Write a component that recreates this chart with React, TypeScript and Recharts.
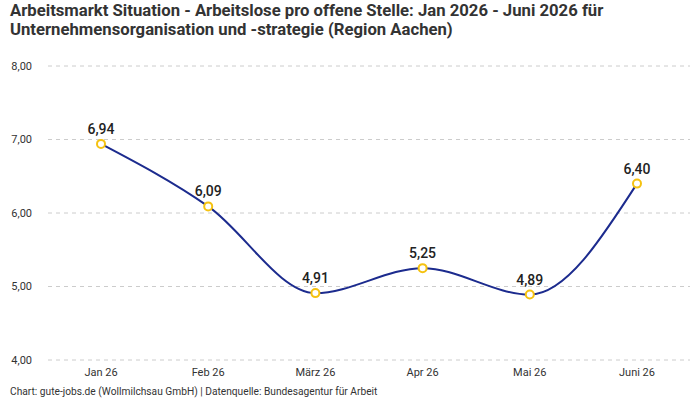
import { LineChart, Line, XAxis, YAxis, CartesianGrid, LabelList } from 'recharts';

const months = ['Jan 26', 'Feb 26', 'März 26', 'Apr 26', 'Mai 26', 'Juni 26'];
const ratio = [6.94, 6.09, 4.91, 5.25, 4.89, 6.4];
const yTicks = [4, 5, 6, 7, 8];

const data = months.map((m, i) => ({ month: m, value: ratio[i] }));

const fmt = (v: number) => v.toFixed(2).replace('.', ',');
const FONT = 'Roboto, "Noto Sans", sans-serif';

export default function App() {
  return (
    <div style={{ position: 'absolute', left: 0, top: 0, width: 700, height: 400, background: '#fff', fontFamily: FONT }}>
      <div style={{ position: 'absolute', left: 10, top: 1, fontSize: 16.7, fontWeight: 700, lineHeight: '19px', color: '#333', width: 685 }}>
        Arbeitsmarkt Situation - Arbeitslose pro offene Stelle: Jan 2026 - Juni 2026 für Unternehmensorganisation und -strategie (Region Aachen)
      </div>
      <LineChart width={700} height={400} data={data} margin={{ top: 66, right: 10, left: 0, bottom: 10 }}>
        <CartesianGrid vertical={false} stroke="#cccccc" strokeDasharray="4 4" />
        <XAxis
          dataKey="month"
          axisLine={false}
          tickLine={false}
          height={30}
          padding={{ left: 53, right: 53 }}
          tick={{ fontSize: 11, fill: '#333', fontFamily: FONT }}
        />
        <YAxis
          domain={[4, 8]}
          ticks={yTicks}
          axisLine={false}
          tickLine={false}
          width={48}
          tickMargin={10}
          tickFormatter={fmt}
          tick={{ fontSize: 11, fill: '#333', fontFamily: FONT }}
        />
        <Line
          type="monotone"
          dataKey="value"
          stroke="#1c2b8e"
          strokeWidth={2}
          dot={{ r: 4, fill: '#fff', stroke: '#f5c211', strokeWidth: 2 }}
          isAnimationActive={false}
        >
          <LabelList
            dataKey="value"
            position="top"
            offset={10}
            formatter={(v: any) => fmt(Number(v))}
            style={{ fontSize: 14, fontWeight: 500, fill: '#222', fontFamily: FONT }}
          />
        </Line>
      </LineChart>
      <div style={{ position: 'absolute', left: 10, top: 386, fontSize: 10.2, color: '#333' }}>
        Chart: gute-jobs.de (Wollmilchsau GmbH) | Datenquelle: Bundesagentur für Arbeit
      </div>
    </div>
  );
}
